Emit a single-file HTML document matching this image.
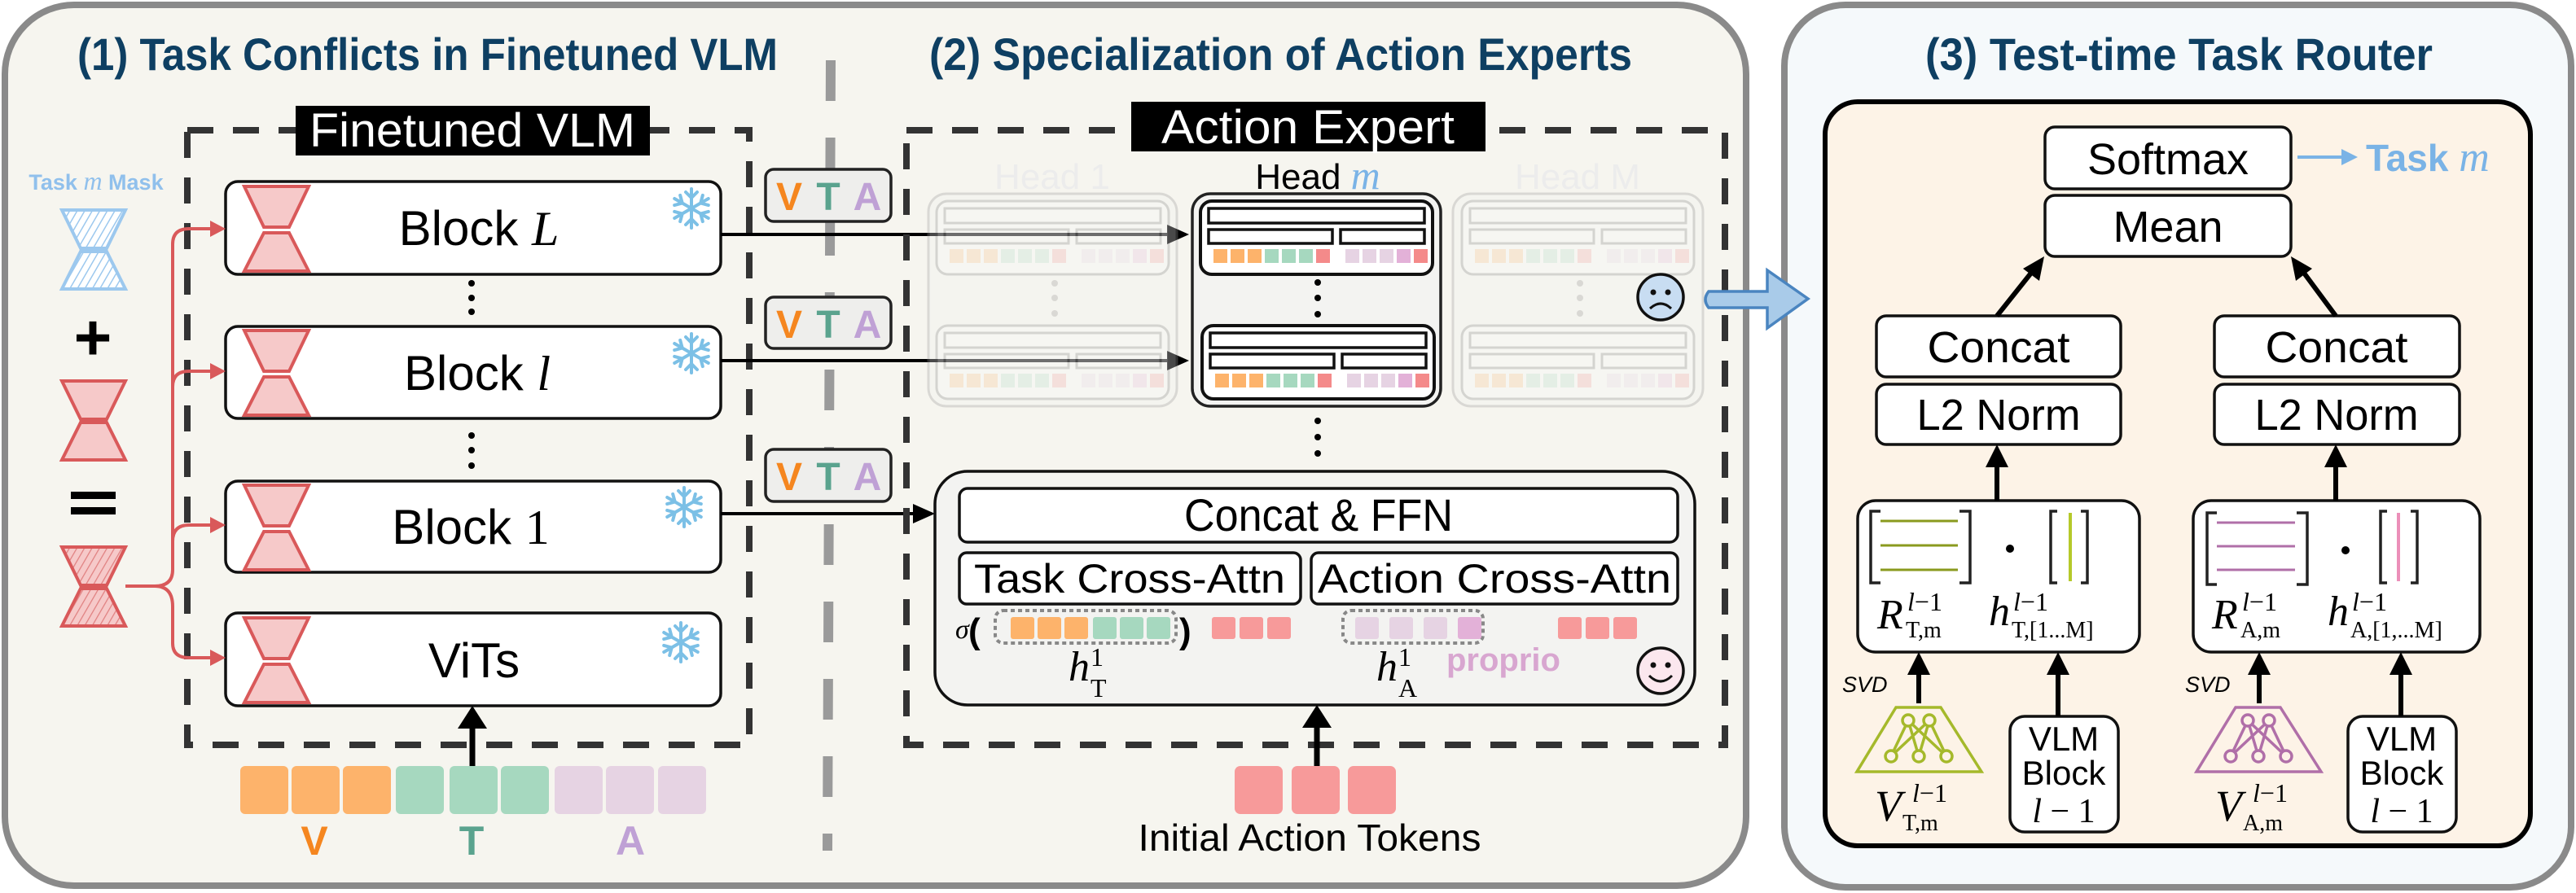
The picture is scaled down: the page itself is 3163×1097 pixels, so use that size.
<!DOCTYPE html>
<html><head><meta charset="utf-8"><style>
html,body{margin:0;padding:0;background:#fff}
svg{display:block}
text{font-family:"Liberation Sans",sans-serif}
.m{font-family:"Liberation Serif",serif;font-style:italic}
.r{font-family:"Liberation Serif",serif}
</style></head><body>
<svg width="3163" height="1097" viewBox="0 0 3163 1097" xmlns="http://www.w3.org/2000/svg">
<defs>
<g id="sf" stroke="#7cc0e6" stroke-width="4" stroke-linecap="round" fill="none">
<g><line x1="0" y1="-24" x2="0" y2="24"/><path d="M-7,-20 L0,-13 L7,-20 M-7,20 L0,13 L7,20"/></g>
<g transform="rotate(60)"><line x1="0" y1="-24" x2="0" y2="24"/><path d="M-7,-20 L0,-13 L7,-20 M-7,20 L0,13 L7,20"/></g>
<g transform="rotate(120)"><line x1="0" y1="-24" x2="0" y2="24"/><path d="M-7,-20 L0,-13 L7,-20 M-7,20 L0,13 L7,20"/></g>
</g>
<pattern id="hb" width="8" height="8" patternUnits="userSpaceOnUse" patternTransform="rotate(30)"><rect width="8" height="8" fill="#fff"/><line x1="0" y1="0" x2="0" y2="8" stroke="#9cc8ee" stroke-width="3"/></pattern>
<pattern id="hr" width="8" height="8" patternUnits="userSpaceOnUse" patternTransform="rotate(30)"><rect width="8" height="8" fill="#f6c9c9"/><line x1="0" y1="0" x2="0" y2="8" stroke="#e08080" stroke-width="2.5"/></pattern>
</defs>
<!-- panels -->
<rect x="6" y="6" width="2138" height="1082" rx="85" fill="#f6f5ef" stroke="#8a8a8a" stroke-width="8"/>
<rect x="2191" y="6" width="966" height="1084" rx="75" fill="#f5f9fb" stroke="#8a8a8a" stroke-width="8"/>
<line x1="1020" y1="74" x2="1016" y2="1045" stroke="#9a9a9a" stroke-width="12" stroke-dasharray="50 45"/>

<text x="95" y="86" font-size="56" font-weight="bold" fill="#0e3f62" textLength="860" lengthAdjust="spacingAndGlyphs">(1) Task Conflicts in Finetuned VLM</text>
<text x="1141" y="86" font-size="56" font-weight="bold" fill="#0e3f62" textLength="863" lengthAdjust="spacingAndGlyphs">(2) Specialization of Action Experts</text>
<text x="2364" y="86" font-size="56" font-weight="bold" fill="#0e3f62" textLength="623" lengthAdjust="spacingAndGlyphs">(3) Test-time Task Router</text>

<!-- Finetuned VLM dashed box -->
<rect x="230" y="160" width="690" height="755" fill="none" stroke="#333" stroke-width="8" stroke-dasharray="32 24"/>
<rect x="363" y="130" width="435" height="61" fill="#000"/>
<text x="580" y="180" font-size="58" fill="#fff" text-anchor="middle" textLength="400" lengthAdjust="spacingAndGlyphs">Finetuned VLM</text>

<!-- blocks -->
<g stroke="#111" stroke-width="3.5" fill="#fff">
<rect x="277" y="223" width="608" height="114" rx="15"/>
<rect x="277" y="401" width="608" height="113" rx="15"/>
<rect x="277" y="591" width="608" height="112" rx="15"/>
<rect x="277" y="753" width="608" height="114" rx="15"/>
</g>
<g fill="#f6c9c9" stroke="#d9595a" stroke-width="4">
<g transform="translate(300,229)"><polygon points="0,0 79,0 55,50 24,50"/><polygon points="24,57 55,57 79,104 0,104"/></g>
<g transform="translate(300,406)"><polygon points="0,0 79,0 55,50 24,50"/><polygon points="24,57 55,57 79,104 0,104"/></g>
<g transform="translate(300,596)"><polygon points="0,0 79,0 55,50 24,50"/><polygon points="24,57 55,57 79,104 0,104"/></g>
<g transform="translate(300,759)"><polygon points="0,0 79,0 55,50 24,50"/><polygon points="24,57 55,57 79,104 0,104"/></g>
<g transform="translate(76,468)"><polygon points="0,0 78,0 55,47 23,47"/><polygon points="23,51 55,51 78,97 0,97"/></g>
</g>
<g transform="translate(76,258)" fill="url(#hb)" stroke="#9cc8ee" stroke-width="4"><polygon points="0,0 78,0 55,47 23,47"/><polygon points="23,51 55,51 78,97 0,97"/></g>
<g transform="translate(76,672)" fill="url(#hr)" stroke="#d9595a" stroke-width="4"><polygon points="0,0 78,0 55,47 23,47"/><polygon points="23,51 55,51 78,97 0,97"/></g>
<text x="118" y="233" font-size="27" font-weight="bold" fill="#90c0ec" text-anchor="middle">Task <tspan class="m" font-weight="normal" font-size="32">m</tspan> Mask</text>
<text x="114" y="442" font-size="80" font-weight="bold" fill="#000" text-anchor="middle">+</text>
<rect x="87" y="604" width="55" height="9" fill="#000"/><rect x="87" y="623" width="55" height="9" fill="#000"/>

<g font-size="60" fill="#000" text-anchor="middle">
<text x="588" y="301">Block <tspan class="r" font-style="italic">L</tspan></text>
<text x="586" y="479">Block <tspan class="r" font-style="italic">l</tspan></text>
<text x="578" y="668">Block <tspan class="r">1</tspan></text>
<text x="582" y="832">ViTs</text>
</g>
<use href="#sf" x="849" y="256"/><use href="#sf" x="849" y="434"/><use href="#sf" x="840" y="623"/><use href="#sf" x="836" y="789"/>
<g fill="#000"><circle cx="579" cy="348" r="4"/><circle cx="579" cy="366" r="4"/><circle cx="579" cy="383" r="4"/>
<circle cx="579" cy="535" r="4"/><circle cx="579" cy="553" r="4"/><circle cx="579" cy="572" r="4"/></g>

<!-- red connectors -->
<g fill="none" stroke="#d9595a" stroke-width="4">
<path d="M154,720 H190 Q212,720 212,700 V300 Q212,281 232,281 H265"/>
<path d="M212,475 Q212,456 232,456 H265"/>
<path d="M212,665 Q212,645 232,645 H265"/>
<path d="M190,720 Q212,720 212,745 V790 Q212,808 232,808 H265"/>
</g>
<g fill="#d9595a"><polygon points="277,281 258,271 258,291"/><polygon points="277,456 258,446 258,466"/><polygon points="277,645 258,635 258,655"/><polygon points="277,808 258,798 258,818"/></g>

<!-- VLM tokens -->
<g>
<rect x="295" y="941" width="59" height="59" rx="6" fill="#fdb36b"/><rect x="358" y="941" width="59" height="59" rx="6" fill="#fdb36b"/><rect x="421" y="941" width="59" height="59" rx="6" fill="#fdb36b"/>
<rect x="486" y="941" width="59" height="59" rx="6" fill="#a6d8bf"/><rect x="552" y="941" width="59" height="59" rx="6" fill="#a6d8bf"/><rect x="615" y="941" width="59" height="59" rx="6" fill="#a6d8bf"/>
<rect x="681" y="941" width="59" height="59" rx="6" fill="#e6d3e3"/><rect x="744" y="941" width="59" height="59" rx="6" fill="#e6d3e3"/><rect x="808" y="941" width="59" height="59" rx="6" fill="#e6d3e3"/>
</g>
<line x1="580" y1="941" x2="580" y2="890" stroke="#000" stroke-width="7"/><polygon points="580,867 562,895 598,895" fill="#000"/>
<g font-size="50" font-weight="bold" text-anchor="middle"><text x="386" y="1050" fill="#f5861f">V</text><text x="579" y="1050" fill="#5aa38e">T</text><text x="774" y="1050" fill="#bfa1d5">A</text></g>

<!-- VTA boxes -->
<g stroke="#222" stroke-width="3.5" fill="#eeeeec">
<rect x="940" y="208" width="154" height="64" rx="10"/><rect x="940" y="365" width="154" height="63" rx="10"/><rect x="940" y="552" width="154" height="64" rx="10"/>
</g>
<g font-size="48" font-weight="bold" text-anchor="middle">
<text x="969" y="258" fill="#f5861f">V</text><text x="1017" y="258" fill="#5aa38e">T</text><text x="1065" y="258" fill="#bfa1d5">A</text>
<text x="969" y="415" fill="#f5861f">V</text><text x="1017" y="415" fill="#5aa38e">T</text><text x="1065" y="415" fill="#bfa1d5">A</text>
<text x="969" y="602" fill="#f5861f">V</text><text x="1017" y="602" fill="#5aa38e">T</text><text x="1065" y="602" fill="#bfa1d5">A</text>
</g>
<g stroke="#000" stroke-width="4"><line x1="885" y1="288" x2="1440" y2="288"/><line x1="885" y1="443" x2="1440" y2="443"/><line x1="885" y1="631" x2="1130" y2="631"/></g>
<g fill="#000"><polygon points="1460,288 1433,276 1433,300"/><polygon points="1460,443 1433,431 1433,455"/><polygon points="1148,631 1121,619 1121,643"/></g>

<!-- Action Expert -->
<rect x="1113" y="160" width="1005" height="755" fill="none" stroke="#333" stroke-width="8" stroke-dasharray="32 24"/>
<rect x="1389" y="125" width="435" height="61" fill="#000"/>
<text x="1606" y="176" font-size="58" fill="#fff" text-anchor="middle" textLength="360" lengthAdjust="spacingAndGlyphs">Action Expert</text>

<text x="1292" y="232" font-size="44" fill="#ececec" text-anchor="middle">Head 1</text>
<text x="1618" y="232" font-size="44" fill="#000" text-anchor="middle">Head <tspan class="m" fill="#7ab3e6" font-size="50">m</tspan></text>
<text x="1937" y="232" font-size="44" fill="#ececec" text-anchor="middle">Head M</text>

<!-- faded heads -->
<g opacity="0.3">
<rect x="1140" y="238" width="305" height="261" rx="22" fill="#f2f2f0" stroke="#999" stroke-width="3"/>
<rect x="1784" y="238" width="307" height="261" rx="22" fill="#f2f2f0" stroke="#999" stroke-width="3"/>
<g fill="#999"><circle cx="1295" cy="348" r="4"/><circle cx="1295" cy="366" r="4"/><circle cx="1295" cy="385" r="4"/><circle cx="1940" cy="348" r="4"/><circle cx="1940" cy="366" r="4"/><circle cx="1940" cy="385" r="4"/></g>
</g>
<g opacity="0.2">
<g transform="translate(1150,247)"><rect width="285" height="90" rx="14" fill="#fff" stroke="#555" stroke-width="3"/><rect x="10" y="9" width="265" height="18" fill="#fff" stroke="#555" stroke-width="3"/><rect x="10" y="35" width="152" height="17" fill="#fff" stroke="#555" stroke-width="3"/><rect x="172" y="35" width="103" height="17" fill="#fff" stroke="#555" stroke-width="3"/><g><rect x="16" y="59" width="17" height="17" fill="#fdb36b"/><rect x="37" y="59" width="17" height="17" fill="#fdb36b"/><rect x="58" y="59" width="17" height="17" fill="#fdb36b"/><rect x="79" y="59" width="17" height="17" fill="#a6d8bf"/><rect x="100" y="59" width="17" height="17" fill="#a6d8bf"/><rect x="121" y="59" width="17" height="17" fill="#a6d8bf"/><rect x="142" y="59" width="17" height="17" fill="#f48a8a"/><rect x="178" y="59" width="17" height="17" fill="#e6d3e3"/><rect x="199" y="59" width="17" height="17" fill="#e6d3e3"/><rect x="220" y="59" width="17" height="17" fill="#e6d3e3"/><rect x="241" y="59" width="17" height="17" fill="#e3b1d8"/><rect x="262" y="59" width="17" height="17" fill="#f48a8a"/></g></g>
<g transform="translate(1150,400)"><rect width="285" height="90" rx="14" fill="#fff" stroke="#555" stroke-width="3"/><rect x="10" y="9" width="265" height="18" fill="#fff" stroke="#555" stroke-width="3"/><rect x="10" y="35" width="152" height="17" fill="#fff" stroke="#555" stroke-width="3"/><rect x="172" y="35" width="103" height="17" fill="#fff" stroke="#555" stroke-width="3"/><g><rect x="16" y="59" width="17" height="17" fill="#fdb36b"/><rect x="37" y="59" width="17" height="17" fill="#fdb36b"/><rect x="58" y="59" width="17" height="17" fill="#fdb36b"/><rect x="79" y="59" width="17" height="17" fill="#a6d8bf"/><rect x="100" y="59" width="17" height="17" fill="#a6d8bf"/><rect x="121" y="59" width="17" height="17" fill="#a6d8bf"/><rect x="142" y="59" width="17" height="17" fill="#f48a8a"/><rect x="178" y="59" width="17" height="17" fill="#e6d3e3"/><rect x="199" y="59" width="17" height="17" fill="#e6d3e3"/><rect x="220" y="59" width="17" height="17" fill="#e6d3e3"/><rect x="241" y="59" width="17" height="17" fill="#e3b1d8"/><rect x="262" y="59" width="17" height="17" fill="#f48a8a"/></g></g>
<g transform="translate(1795,247)"><rect width="285" height="90" rx="14" fill="#fff" stroke="#555" stroke-width="3"/><rect x="10" y="9" width="265" height="18" fill="#fff" stroke="#555" stroke-width="3"/><rect x="10" y="35" width="152" height="17" fill="#fff" stroke="#555" stroke-width="3"/><rect x="172" y="35" width="103" height="17" fill="#fff" stroke="#555" stroke-width="3"/><g><rect x="16" y="59" width="17" height="17" fill="#fdb36b"/><rect x="37" y="59" width="17" height="17" fill="#fdb36b"/><rect x="58" y="59" width="17" height="17" fill="#fdb36b"/><rect x="79" y="59" width="17" height="17" fill="#a6d8bf"/><rect x="100" y="59" width="17" height="17" fill="#a6d8bf"/><rect x="121" y="59" width="17" height="17" fill="#a6d8bf"/><rect x="142" y="59" width="17" height="17" fill="#f48a8a"/><rect x="178" y="59" width="17" height="17" fill="#e6d3e3"/><rect x="199" y="59" width="17" height="17" fill="#e6d3e3"/><rect x="220" y="59" width="17" height="17" fill="#e6d3e3"/><rect x="241" y="59" width="17" height="17" fill="#e3b1d8"/><rect x="262" y="59" width="17" height="17" fill="#f48a8a"/></g></g>
<g transform="translate(1795,400)"><rect width="285" height="90" rx="14" fill="#fff" stroke="#555" stroke-width="3"/><rect x="10" y="9" width="265" height="18" fill="#fff" stroke="#555" stroke-width="3"/><rect x="10" y="35" width="152" height="17" fill="#fff" stroke="#555" stroke-width="3"/><rect x="172" y="35" width="103" height="17" fill="#fff" stroke="#555" stroke-width="3"/><g><rect x="16" y="59" width="17" height="17" fill="#fdb36b"/><rect x="37" y="59" width="17" height="17" fill="#fdb36b"/><rect x="58" y="59" width="17" height="17" fill="#fdb36b"/><rect x="79" y="59" width="17" height="17" fill="#a6d8bf"/><rect x="100" y="59" width="17" height="17" fill="#a6d8bf"/><rect x="121" y="59" width="17" height="17" fill="#a6d8bf"/><rect x="142" y="59" width="17" height="17" fill="#f48a8a"/><rect x="178" y="59" width="17" height="17" fill="#e6d3e3"/><rect x="199" y="59" width="17" height="17" fill="#e6d3e3"/><rect x="220" y="59" width="17" height="17" fill="#e6d3e3"/><rect x="241" y="59" width="17" height="17" fill="#e3b1d8"/><rect x="262" y="59" width="17" height="17" fill="#f48a8a"/></g></g>
</g>

<!-- Head m -->
<rect x="1464" y="238" width="305" height="261" rx="22" fill="#f3f3f1" stroke="#222" stroke-width="3.5"/>
<g transform="translate(1474,247)"><rect width="285" height="90" rx="14" fill="#fff" stroke="#111" stroke-width="4"/><rect x="10" y="9" width="265" height="18" fill="#fff" stroke="#111" stroke-width="3.5"/><rect x="10" y="35" width="152" height="17" fill="#fff" stroke="#111" stroke-width="3.5"/><rect x="172" y="35" width="103" height="17" fill="#fff" stroke="#111" stroke-width="3.5"/><g><rect x="16" y="59" width="17" height="17" fill="#fdb36b"/><rect x="37" y="59" width="17" height="17" fill="#fdb36b"/><rect x="58" y="59" width="17" height="17" fill="#fdb36b"/><rect x="79" y="59" width="17" height="17" fill="#a6d8bf"/><rect x="100" y="59" width="17" height="17" fill="#a6d8bf"/><rect x="121" y="59" width="17" height="17" fill="#a6d8bf"/><rect x="142" y="59" width="17" height="17" fill="#f48a8a"/><rect x="178" y="59" width="17" height="17" fill="#e6d3e3"/><rect x="199" y="59" width="17" height="17" fill="#e6d3e3"/><rect x="220" y="59" width="17" height="17" fill="#e6d3e3"/><rect x="241" y="59" width="17" height="17" fill="#e3b1d8"/><rect x="262" y="59" width="17" height="17" fill="#f48a8a"/></g></g>
<g transform="translate(1476,400)"><rect width="285" height="90" rx="14" fill="#fff" stroke="#111" stroke-width="4"/><rect x="10" y="9" width="265" height="18" fill="#fff" stroke="#111" stroke-width="3.5"/><rect x="10" y="35" width="152" height="17" fill="#fff" stroke="#111" stroke-width="3.5"/><rect x="172" y="35" width="103" height="17" fill="#fff" stroke="#111" stroke-width="3.5"/><g><rect x="16" y="59" width="17" height="17" fill="#fdb36b"/><rect x="37" y="59" width="17" height="17" fill="#fdb36b"/><rect x="58" y="59" width="17" height="17" fill="#fdb36b"/><rect x="79" y="59" width="17" height="17" fill="#a6d8bf"/><rect x="100" y="59" width="17" height="17" fill="#a6d8bf"/><rect x="121" y="59" width="17" height="17" fill="#a6d8bf"/><rect x="142" y="59" width="17" height="17" fill="#f48a8a"/><rect x="178" y="59" width="17" height="17" fill="#e6d3e3"/><rect x="199" y="59" width="17" height="17" fill="#e6d3e3"/><rect x="220" y="59" width="17" height="17" fill="#e6d3e3"/><rect x="241" y="59" width="17" height="17" fill="#e3b1d8"/><rect x="262" y="59" width="17" height="17" fill="#f48a8a"/></g></g>
<g fill="#000"><circle cx="1618" cy="347" r="4"/><circle cx="1618" cy="366" r="4"/><circle cx="1618" cy="386" r="4"/><circle cx="1618" cy="517" r="4"/><circle cx="1618" cy="537" r="4"/><circle cx="1618" cy="557" r="4"/></g>

<!-- sad face -->
<g transform="translate(2039,365)"><circle r="28" fill="#c8ddf2" stroke="#111" stroke-width="3.5"/><circle cx="-9" cy="-6" r="3.5" fill="#111"/><circle cx="9" cy="-6" r="3.5" fill="#111"/><path d="M-13,14 Q0,2 13,14" fill="none" stroke="#111" stroke-width="3"/></g>

<!-- main block -->
<rect x="1148" y="579" width="933" height="287" rx="40" fill="#f3f3f1" stroke="#111" stroke-width="3.5"/>
<rect x="1178" y="600" width="882" height="66" rx="10" fill="#fff" stroke="#111" stroke-width="3.5"/>
<text x="1619" y="652" font-size="56" text-anchor="middle" textLength="330" lengthAdjust="spacingAndGlyphs">Concat &amp; FFN</text>
<rect x="1178" y="679" width="419" height="63" rx="9" fill="#fff" stroke="#111" stroke-width="3.5"/>
<rect x="1610" y="679" width="450" height="63" rx="9" fill="#fff" stroke="#111" stroke-width="3.5"/>
<text x="1387" y="728" font-size="50" text-anchor="middle" textLength="382" lengthAdjust="spacingAndGlyphs">Task Cross-Attn</text>
<text x="1835" y="728" font-size="50" text-anchor="middle" textLength="434" lengthAdjust="spacingAndGlyphs">Action Cross-Attn</text>
<text x="1173" y="784" class="m" font-size="34">σ</text>
<text x="1189" y="790" font-size="44" font-weight="bold">(</text>
<text x="1448" y="790" font-size="44" font-weight="bold">)</text>
<rect x="1222" y="750" width="222" height="40" rx="10" fill="none" stroke="#888" stroke-width="4" stroke-dasharray="5 4"/>
<g><rect x="1241" y="758" width="29" height="27" rx="3" fill="#fdb36b"/><rect x="1274" y="758" width="29" height="27" rx="3" fill="#fdb36b"/><rect x="1307" y="758" width="29" height="27" rx="3" fill="#fdb36b"/><rect x="1342" y="758" width="29" height="27" rx="3" fill="#a6d8bf"/><rect x="1375" y="758" width="29" height="27" rx="3" fill="#a6d8bf"/><rect x="1408" y="758" width="29" height="27" rx="3" fill="#a6d8bf"/></g>
<g fill="#f79a9a"><rect x="1488" y="758" width="29" height="27" rx="3"/><rect x="1522" y="758" width="29" height="27" rx="3"/><rect x="1556" y="758" width="29" height="27" rx="3"/>
<rect x="1913" y="758" width="29" height="27" rx="3"/><rect x="1947" y="758" width="29" height="27" rx="3"/><rect x="1981" y="758" width="29" height="27" rx="3"/></g>
<rect x="1649" y="750" width="172" height="40" rx="10" fill="none" stroke="#888" stroke-width="4" stroke-dasharray="5 4"/>
<g><rect x="1664" y="758" width="29" height="27" rx="3" fill="#e6d3e3"/><rect x="1706" y="758" width="29" height="27" rx="3" fill="#e6d3e3"/><rect x="1748" y="758" width="29" height="27" rx="3" fill="#e6d3e3"/><rect x="1790" y="758" width="29" height="27" rx="3" fill="#e3b1d8"/></g>
<text x="1312" y="836" class="m" font-size="52">h</text><text x="1339" y="818" class="r" font-size="32">1</text><text x="1339" y="856" class="r" font-size="32">T</text>
<text x="1690" y="836" class="m" font-size="52">h</text><text x="1717" y="818" class="r" font-size="32">1</text><text x="1717" y="856" class="r" font-size="32">A</text>
<text x="1776" y="824" font-size="40" font-weight="bold" fill="#d8a6d0">proprio</text>
<g transform="translate(2039,824)"><circle r="28" fill="#fbe7ee" stroke="#111" stroke-width="3.5"/><circle cx="-9" cy="-7" r="3.5" fill="#111"/><circle cx="9" cy="-7" r="3.5" fill="#111"/><path d="M-14,6 Q0,20 14,6" fill="none" stroke="#111" stroke-width="3"/></g>

<!-- initial action tokens -->
<g fill="#f79a9a"><rect x="1516" y="941" width="59" height="59" rx="7"/><rect x="1586" y="941" width="59" height="59" rx="7"/><rect x="1655" y="941" width="59" height="59" rx="7"/></g>
<line x1="1617" y1="941" x2="1617" y2="890" stroke="#000" stroke-width="7"/><polygon points="1617,866 1599,894 1635,894" fill="#000"/>
<text x="1608" y="1045" font-size="46" text-anchor="middle" textLength="421" lengthAdjust="spacingAndGlyphs">Initial Action Tokens</text>

<!-- blue arrow between panels -->
<path d="M2098,358 H2170 V332 L2220,367 L2170,403 V378 H2098 Q2090,368 2098,358 Z" fill="#a9cbe9" stroke="#4a85c0" stroke-width="3.5"/>

<!-- Router -->
<rect x="2241" y="125" width="866" height="914" rx="40" fill="#fdf3e7" stroke="#000" stroke-width="6"/>
<g fill="#fff" stroke="#111" stroke-width="3.5">
<rect x="2511" y="156" width="302" height="76" rx="12"/>
<rect x="2511" y="240" width="302" height="75" rx="12"/>
<rect x="2304" y="388" width="300" height="75" rx="12"/>
<rect x="2304" y="472" width="300" height="74" rx="12"/>
<rect x="2719" y="388" width="301" height="75" rx="12"/>
<rect x="2719" y="472" width="301" height="74" rx="12"/>
<rect x="2281" y="615" width="346" height="186" rx="22"/>
<rect x="2693" y="615" width="352" height="186" rx="22"/>
<rect x="2468" y="880" width="133" height="142" rx="18"/>
<rect x="2883" y="880" width="133" height="142" rx="18"/>
</g>
<g font-size="54" text-anchor="middle">
<text x="2662" y="214" textLength="198" lengthAdjust="spacingAndGlyphs">Softmax</text>
<text x="2662" y="297">Mean</text>
<text x="2454" y="445" textLength="175" lengthAdjust="spacingAndGlyphs">Concat</text>
<text x="2454" y="528" textLength="201" lengthAdjust="spacingAndGlyphs">L2 Norm</text>
<text x="2869" y="445" textLength="175" lengthAdjust="spacingAndGlyphs">Concat</text>
<text x="2869" y="528" textLength="201" lengthAdjust="spacingAndGlyphs">L2 Norm</text>
</g>
<line x1="2821" y1="193" x2="2880" y2="193" stroke="#7ab3e6" stroke-width="4"/><polygon points="2895,193 2875,183 2875,203" fill="#7ab3e6"/>
<text x="2905" y="210" font-size="46" font-weight="bold" fill="#7ab3e6">Task <tspan class="m" font-weight="normal" font-size="52">m</tspan></text>
<g stroke="#000" stroke-width="6">
<line x1="2452" y1="388" x2="2495" y2="334"/><line x1="2868" y1="388" x2="2828" y2="334"/>
<line x1="2452" y1="615" x2="2452" y2="570"/><line x1="2868" y1="615" x2="2868" y2="570"/>
<line x1="2356" y1="864" x2="2356" y2="825"/><line x1="2527" y1="880" x2="2527" y2="825"/>
<line x1="2774" y1="864" x2="2774" y2="825"/><line x1="2948" y1="880" x2="2948" y2="825"/>
</g>
<g fill="#000">
<polygon points="2510,315 2484,330 2504,345"/><polygon points="2813,315 2819,345 2839,330"/>
<polygon points="2452,546 2438,574 2466,574"/><polygon points="2868,546 2854,574 2882,574"/>
<polygon points="2356,801 2342,829 2370,829"/><polygon points="2527,801 2513,829 2541,829"/>
<polygon points="2774,801 2760,829 2788,829"/><polygon points="2948,801 2934,829 2962,829"/>
</g>
<!-- matrices -->
<g fill="none" stroke="#222" stroke-width="3.5">
<path d="M2309,628 H2297 V716 H2309"/><path d="M2406,628 H2419 V716 H2406"/>
<path d="M2526,628 H2518 V716 H2526"/><path d="M2555,628 H2563 V716 H2555"/>
<path d="M2722,630 H2710 V718 H2722"/><path d="M2820,630 H2833 V718 H2820"/>
<path d="M2931,628 H2923 V716 H2931"/><path d="M2960,628 H2968 V716 H2960"/>
</g>
<g stroke="#8a9a1e" stroke-width="3"><line x1="2309" y1="640" x2="2404" y2="640"/><line x1="2309" y1="670" x2="2404" y2="670"/><line x1="2309" y1="700" x2="2404" y2="700"/><line x1="2542" y1="630" x2="2542" y2="714" stroke="#b5c92a" stroke-width="4"/></g>
<g stroke="#b06fa8" stroke-width="3"><line x1="2722" y1="642" x2="2818" y2="642"/><line x1="2722" y1="671" x2="2818" y2="671"/><line x1="2722" y1="700" x2="2818" y2="700"/><line x1="2945" y1="630" x2="2945" y2="714" stroke="#ec8fb9" stroke-width="4"/></g>
<circle cx="2468" cy="674" r="5" fill="#000"/><circle cx="2880" cy="676" r="5" fill="#000"/>
<text x="2305" y="772" class="m" font-size="52">R</text><text x="2342" y="750" class="m" font-size="32">l<tspan class="r" font-style="normal">−1</tspan></text><text x="2340" y="783" class="r" font-size="28">T,m</text>
<text x="2442" y="768" class="m" font-size="52">h</text><text x="2472" y="750" class="m" font-size="32">l<tspan class="r" font-style="normal">−1</tspan></text><text x="2470" y="783" class="r" font-size="28">T,[1...M]</text>
<text x="2716" y="772" class="m" font-size="52">R</text><text x="2753" y="750" class="m" font-size="32">l<tspan class="r" font-style="normal">−1</tspan></text><text x="2751" y="783" class="r" font-size="28">A,m</text>
<text x="2858" y="768" class="m" font-size="52">h</text><text x="2888" y="750" class="m" font-size="32">l<tspan class="r" font-style="normal">−1</tspan></text><text x="2886" y="783" class="r" font-size="28">A,[1,...M]</text>
<text x="2262" y="850" font-size="27" font-style="italic">SVD</text>
<text x="2683" y="850" font-size="27" font-style="italic">SVD</text>
<!-- trapezoids -->
<g fill="none" stroke="#a5b92b" stroke-width="3.5">
<polygon points="2328,869 2383,869 2433,948 2280,948"/>
<line x1="2343" y1="885" x2="2322" y2="929"/><line x1="2343" y1="885" x2="2356" y2="929"/><line x1="2343" y1="885" x2="2390" y2="929"/>
<line x1="2369" y1="885" x2="2322" y2="929"/><line x1="2369" y1="885" x2="2356" y2="929"/><line x1="2369" y1="885" x2="2390" y2="929"/>
<circle cx="2343" cy="885" r="7" fill="#fdf3e7"/><circle cx="2369" cy="885" r="7" fill="#fdf3e7"/>
<circle cx="2322" cy="929" r="7" fill="#fdf3e7"/><circle cx="2356" cy="929" r="7" fill="#fdf3e7"/><circle cx="2390" cy="929" r="7" fill="#fdf3e7"/>
</g>
<g fill="none" stroke="#b06fa8" stroke-width="3.5">
<polygon points="2745,869 2800,869 2850,948 2697,948"/>
<line x1="2760" y1="885" x2="2739" y2="929"/><line x1="2760" y1="885" x2="2773" y2="929"/><line x1="2760" y1="885" x2="2807" y2="929"/>
<line x1="2786" y1="885" x2="2739" y2="929"/><line x1="2786" y1="885" x2="2773" y2="929"/><line x1="2786" y1="885" x2="2807" y2="929"/>
<circle cx="2760" cy="885" r="7" fill="#fdf3e7"/><circle cx="2786" cy="885" r="7" fill="#fdf3e7"/>
<circle cx="2739" cy="929" r="7" fill="#fdf3e7"/><circle cx="2773" cy="929" r="7" fill="#fdf3e7"/><circle cx="2807" cy="929" r="7" fill="#fdf3e7"/>
</g>
<text x="2302" y="1008" class="m" font-size="54">V</text><text x="2348" y="985" class="m" font-size="32">l<tspan class="r" font-style="normal">−1</tspan></text><text x="2336" y="1020" class="r" font-size="28">T,m</text>
<text x="2720" y="1008" class="m" font-size="54">V</text><text x="2766" y="985" class="m" font-size="32">l<tspan class="r" font-style="normal">−1</tspan></text><text x="2754" y="1020" class="r" font-size="28">A,m</text>
<g font-size="42" text-anchor="middle">
<text x="2534" y="922">VLM</text><text x="2534" y="964">Block</text><text x="2534" y="1010" class="r"><tspan class="m">l</tspan> − 1</text>
<text x="2949" y="922">VLM</text><text x="2949" y="964">Block</text><text x="2949" y="1010" class="r"><tspan class="m">l</tspan> − 1</text>
</g>
</svg>
</body></html>
